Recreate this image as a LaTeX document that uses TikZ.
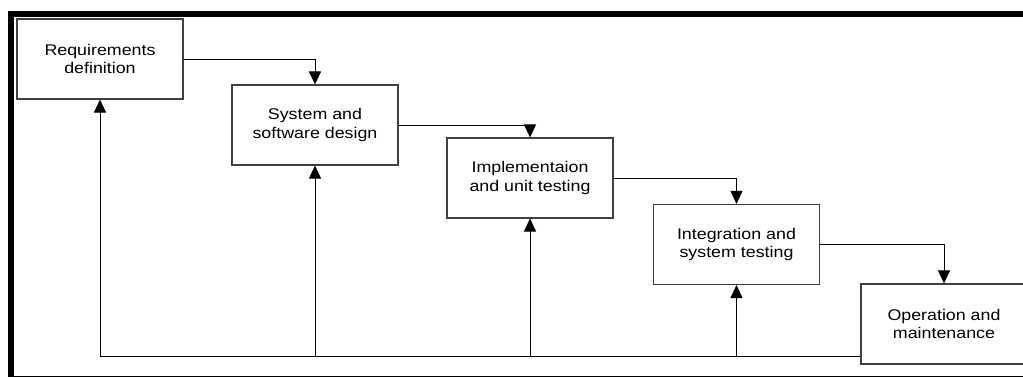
\documentclass[tikz,border=0pt]{standalone}
\usepackage{fontspec}
\setmainfont{Liberation Sans}[FakeStretch=1.15]
\usetikzlibrary{arrows.meta}
\tikzset{
  phase/.style={draw=black!75, line width=1.1pt, fill=white, minimum width=166pt, minimum height=80pt,
    align=center, inner sep=0pt, font=\fontsize{15.5}{18.5}\selectfont},
  flow/.style={draw=black, line width=0.9pt, -{Triangle[width=12pt,length=13pt]}},
  plain/.style={draw=black, line width=0.9pt},
}
\begin{document}
\begin{tikzpicture}[x=1pt,y=-1pt]
\useasboundingbox (0,0) rectangle (1023,377);
% frame
\fill[black] (8,11) rectangle (1023,17);
\fill[black] (8,11) rectangle (14,377);
\draw[line width=1.2pt] (14,376.4) -- (1023,376.4);
% phases
\node[phase] (b1) at (100,59) {Requirements\\definition};
\node[phase] (b2) at (315,125) {System and\\software design};
\node[phase] (b3) at (530,178) {Implementaion\\and unit testing};
\node[phase] (b4) at (736.5,244.5) {Integration and\\system testing};
\node[phase] (b5) at (944,324) {Operation and\\maintenance};
% forward flow
\draw[flow] (b1.east) -| (b2.north);
\draw[flow] (b2.east) -| (b3.north);
\draw[flow] (b3.east) -| (b4.north);
\draw[flow] (b4.east) -| (b5.north);
% feedback
\coordinate (f1) at (100,356);
\coordinate (f2) at (315,356);
\coordinate (f3) at (530,356);
\coordinate (f4) at (736.5,356);
\draw[plain] (f1) -- (f1 -| b5.west);
\draw[flow] (f1) -- (b1.south);
\draw[flow] (f2) -- (b2.south);
\draw[flow] (f3) -- (b3.south);
\draw[flow] (f4) -- (b4.south);
\end{tikzpicture}
\end{document}
